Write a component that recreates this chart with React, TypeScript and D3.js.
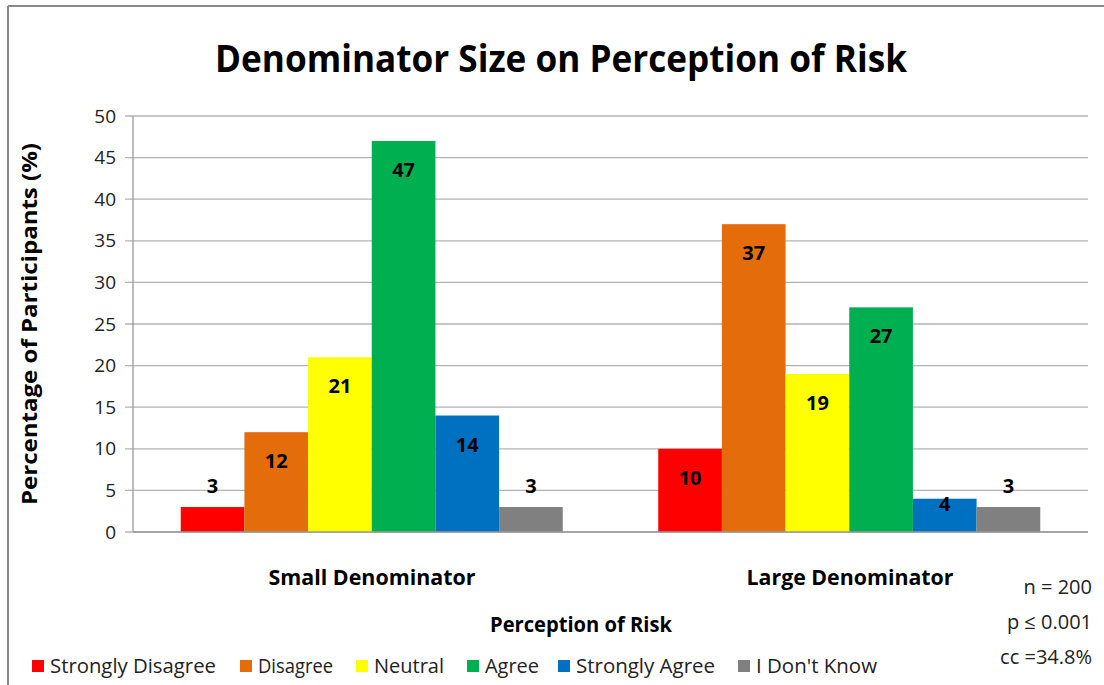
import React from "react";
import * as d3 from "d3";

const categories = ["Small Denominator", "Large Denominator"];
const seriesNames = ["Strongly Disagree", "Disagree", "Neutral", "Agree", "Strongly Agree", "I Don't Know"];
const seriesColors = ["#ff0000", "#e46c0a", "#ffff00", "#00b050", "#0070c0", "#808080"];
const smallValues = [3, 12, 21, 47, 14, 3];
const largeValues = [10, 37, 19, 27, 4, 3];
const yTicks = [0, 5, 10, 15, 20, 25, 30, 35, 40, 45, 50];
const notes = ["n = 200", "p \u2264 0.001", "cc =34.8%"];

const values = [smallValues, largeValues];

const FONT = "'Liberation Sans Narrow', 'Open Sans', sans-serif";

const legendX = [32, 240, 356, 467, 558, 738];
const legendW = [166, 75, 70, 54, 139, 121];

export default function App() {
  const left = 133, right = 1088, top = 116, bottom = 532;
  const x0 = d3.scaleBand().domain(categories).range([left, right]).paddingInner(0.2).paddingOuter(0.1);
  const y = d3.scaleLinear().domain([0, 50]).range([bottom, top]);
  // compute bar width so that group gaps = 1.5 bar widths (Excel gap width 150%)
  const catW = (right - left) / categories.length;
  const barW = catW / (seriesNames.length + 1.5);
  const groupStart = (ci: number) => left + ci * catW + 0.75 * barW;

  return (
    <svg width={1104} height={685} style={{ position: "absolute", left: 0, top: 0, background: "#fff" }}>
      <rect x={0} y={0} width={1104} height={685} fill="#fff" />
      <line x1={8} y1={6} x2={1104} y2={6} stroke="#888" strokeWidth={2} />
      <line x1={8} y1={6} x2={8} y2={685} stroke="#888" strokeWidth={2} />

      <text x={561} y={72} textAnchor="middle" fontFamily={FONT} fontWeight="bold" fontSize={38}
        textLength={692} lengthAdjust="spacingAndGlyphs">Denominator Size on Perception of Risk</text>

      {yTicks.map((t) => (
        <g key={t}>
          <line x1={left - 8} x2={right} y1={y(t)} y2={y(t)} stroke="#b3b3b3" strokeWidth={1.3} />
          <text x={116} y={y(t) + 6.5} textAnchor="end" fontFamily={FONT} fontSize={19} fill="#222">{t}</text>
        </g>
      ))}
      <line x1={left} x2={left} y1={top} y2={bottom} stroke="#999" strokeWidth={1.3} />

      {values.map((vals, ci) =>
        vals.map((v, si) => {
          const bx = groupStart(ci) + si * barW;
          const yt = y(v);
          const h = bottom - yt;
          const ly = h >= 55 ? yt + 29 : h >= 30 ? yt + 5 : yt - 21;
          return (
            <g key={ci + "-" + si}>
              <rect x={bx} y={yt} width={barW} height={h} fill={seriesColors[si]} />
              <text x={bx + barW / 2} y={ly + 7} textAnchor="middle" fontFamily={FONT} fontWeight="bold"
                fontSize={20} fill="#000">{v}</text>
            </g>
          );
        })
      )}
      <line x1={left} x2={right} y1={bottom} y2={bottom} stroke="#999" strokeWidth={1.3} />

      {categories.map((c, ci) => (
        <text key={c} x={left + (ci + 0.5) * catW - (ci === 0 ? 238 - 238 : 0)} y={585}
          textAnchor="middle" fontFamily={FONT} fontWeight="bold" fontSize={21}
          textLength={207} lengthAdjust="spacingAndGlyphs"
          transform={`translate(${ci === 0 ? 372 - (left + 0.5 * catW) : 850 - (left + 1.5 * catW)},0)`}>{c}</text>
      ))}

      <text x={581} y={632} textAnchor="middle" fontFamily={FONT} fontWeight="bold" fontSize={21}
        textLength={182} lengthAdjust="spacingAndGlyphs">Perception of Risk</text>

      <text transform="translate(37,324) rotate(-90)" textAnchor="middle" fontFamily={FONT} fontWeight="bold"
        fontSize={21} textLength={362} lengthAdjust="spacingAndGlyphs">Percentage of Participants (%)</text>

      {notes.map((n, i) => (
        <text key={n} x={1092} y={594 + i * 35} textAnchor="end" fontFamily={FONT} fontSize={20} fill="#222">{n}</text>
      ))}

      {seriesNames.map((s, i) => (
        <g key={s}>
          <rect x={legendX[i]} y={660} width={12} height={12} fill={seriesColors[i]} />
          <text x={legendX[i] + 18} y={673} fontFamily={FONT} fontSize={20} fill="#222"
            textLength={legendW[i]} lengthAdjust="spacingAndGlyphs">{s}</text>
        </g>
      ))}
    </svg>
  );
}
